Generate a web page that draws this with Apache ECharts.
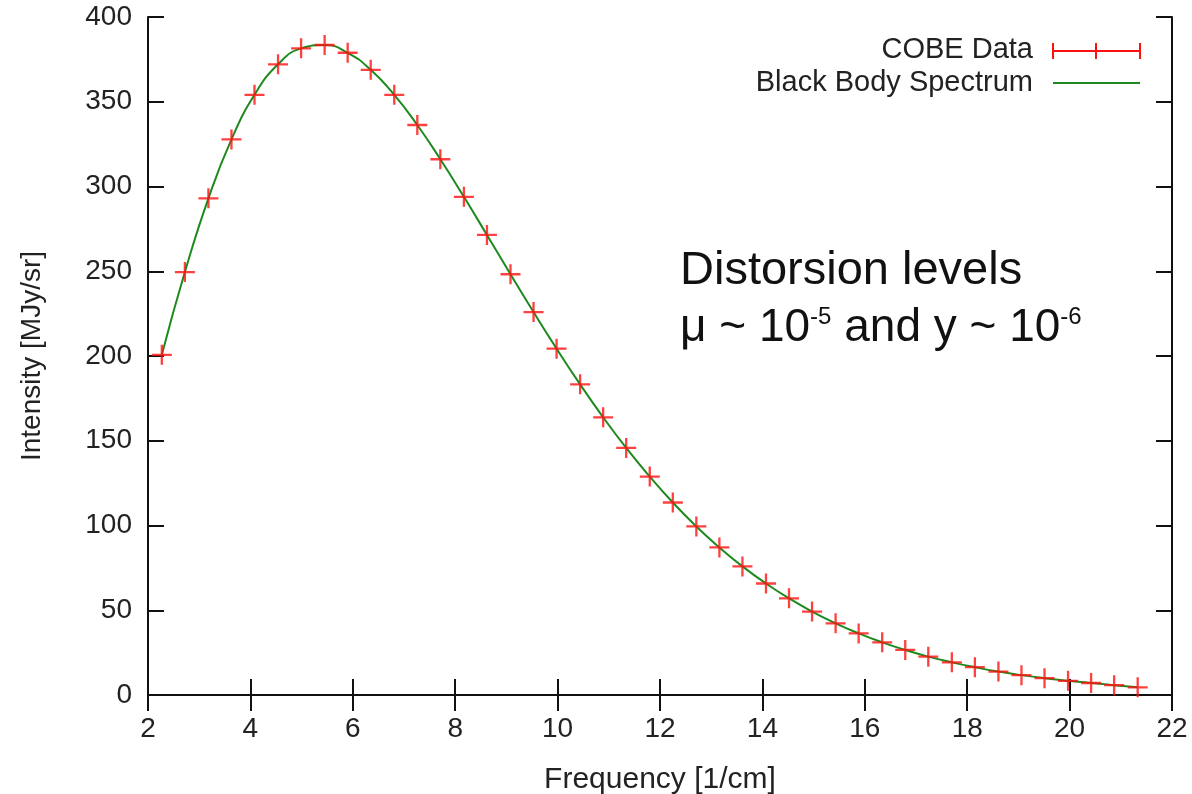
<!DOCTYPE html>
<html><head><meta charset="utf-8">
<script src="https://cdn.jsdelivr.net/npm/echarts@6/dist/echarts.min.js"></script>
<style>html,body{margin:0;padding:0;background:#fff}#c{width:1192px;height:794px}</style>
</head><body><div id="c"></div>
<script>
const frequency = [2.27,2.72,3.18,3.63,4.08,4.54,4.99,5.45,5.90,6.35,6.81,7.26,7.71,8.17,8.62,9.08,9.53,9.98,10.44,10.89,11.34,11.80,12.25,12.71,13.16,13.61,14.07,14.52,14.97,15.43,15.88,16.34,16.79,17.24,17.70,18.15,18.61,19.06,19.51,19.97,20.42,20.87,21.33];
const intensity = [200.72,249.51,293.02,327.77,354.08,372.08,381.49,383.48,378.90,368.83,354.06,336.28,316.08,293.92,271.43,248.24,225.94,204.33,183.26,163.83,145.75,128.84,113.57,99.45,87.04,75.88,65.77,57.01,49.22,42.27,36.35,31.06,26.58,22.64,19.26,16.39,13.81,11.72,9.92,8.36,7.09,5.80,4.52];
const xTicks = [2,4,6,8,10,12,14,16,18,20,22];
const yTicks = [0,50,100,150,200,250,300,350,400];
const seriesNames = ['COBE Data','Black Body Spectrum'];

const FONT = '"Liberation Sans", Arial, sans-serif';
const pts = frequency.map((f,i)=>[f,intensity[i]]);
const chart = echarts.init(document.getElementById('c'));
const axisLine = {lineStyle:{color:'#111',width:2}};
const tick = {inside:true,length:16,lineStyle:{color:'#111',width:2}};
const RED = '#ff1010', GREEN = '#1e8a1e';
const plus = 'path://M-1.15,-10 L1.15,-10 L1.15,-1.15 L10,-1.15 L10,1.15 L1.15,1.15 L1.15,10 L-1.15,10 L-1.15,1.15 L-10,1.15 L-10,-1.15 L-1.15,-1.15 Z';
chart.setOption({
  animation:false,
  grid:{left:148,right:20,top:17,bottom:99,containLabel:false,outerBoundsMode:'none'},
  xAxis:[
    {type:'value',min:xTicks[0],max:xTicks[xTicks.length-1],interval:2,position:'bottom',
     axisLine:axisLine,axisTick:tick,splitLine:{show:false},
     axisLabel:{color:'#222',fontSize:28,fontFamily:FONT,margin:20},
     name:'Frequency [1/cm]',nameLocation:'middle',nameGap:70,
     nameTextStyle:{color:'#222',fontSize:30,fontFamily:FONT}},
    {type:'value',min:xTicks[0],max:xTicks[xTicks.length-1],interval:2,position:'top',
     axisLine:axisLine,axisTick:tick,splitLine:{show:false},axisLabel:{show:false}}
  ],
  yAxis:[
    {type:'value',min:yTicks[0],max:yTicks[yTicks.length-1],interval:50,position:'left',
     axisLine:axisLine,axisTick:tick,splitLine:{show:false},
     axisLabel:{color:'#222',fontSize:28,fontFamily:FONT,margin:16},
     name:'Intensity [MJy/sr]',nameLocation:'middle',nameGap:102,nameRotate:90,
     nameTextStyle:{color:'#222',fontSize:28,fontFamily:FONT}},
    {type:'value',min:yTicks[0],max:yTicks[yTicks.length-1],interval:50,position:'right',
     axisLine:axisLine,axisTick:tick,splitLine:{show:false},axisLabel:{show:false}}
  ],
  series:[
    {name:seriesNames[1],type:'line',data:pts,smooth:0.5,showSymbol:false,
     lineStyle:{color:GREEN,width:2},z:2},
    {name:seriesNames[0],type:'scatter',data:pts,symbol:plus,symbolSize:20,
     itemStyle:{color:RED},z:3}
  ],
  graphic:[
    {type:'text',x:1033,y:50,style:{text:seriesNames[0],font:'29px '+FONT,fill:'#222',align:'right',verticalAlign:'middle'}},
    {type:'text',x:1033,y:83,style:{text:seriesNames[1],font:'29px '+FONT,fill:'#222',align:'right',verticalAlign:'middle'}},
    {type:'line',shape:{x1:1053,y1:51,x2:1140,y2:51},style:{stroke:RED,lineWidth:2}},
    {type:'line',shape:{x1:1053,y1:43,x2:1053,y2:59},style:{stroke:RED,lineWidth:2}},
    {type:'line',shape:{x1:1140,y1:43,x2:1140,y2:59},style:{stroke:RED,lineWidth:2}},
    {type:'line',shape:{x1:1096,y1:43,x2:1096,y2:59},style:{stroke:RED,lineWidth:2}},
    {type:'line',shape:{x1:1053,y1:83,x2:1140,y2:83},style:{stroke:GREEN,lineWidth:2}},
    {type:'text',x:680,y:248,style:{text:'Distorsion levels',font:'47px '+FONT,fill:'#111',verticalAlign:'top'}},
    {type:'text',x:680,y:305,style:{
      text:'{n|μ ~ 10}{s|-5}{n| and y ~ 10}{s|-6}',
      verticalAlign:'top',fill:'#111',
      rich:{n:{fontSize:46,fontFamily:FONT,fill:'#111',lineHeight:46,verticalAlign:'top'},
            s:{fontSize:24,fontFamily:FONT,fill:'#111',lineHeight:24,verticalAlign:'top'}}}}
  ]
});
</script></body></html>
